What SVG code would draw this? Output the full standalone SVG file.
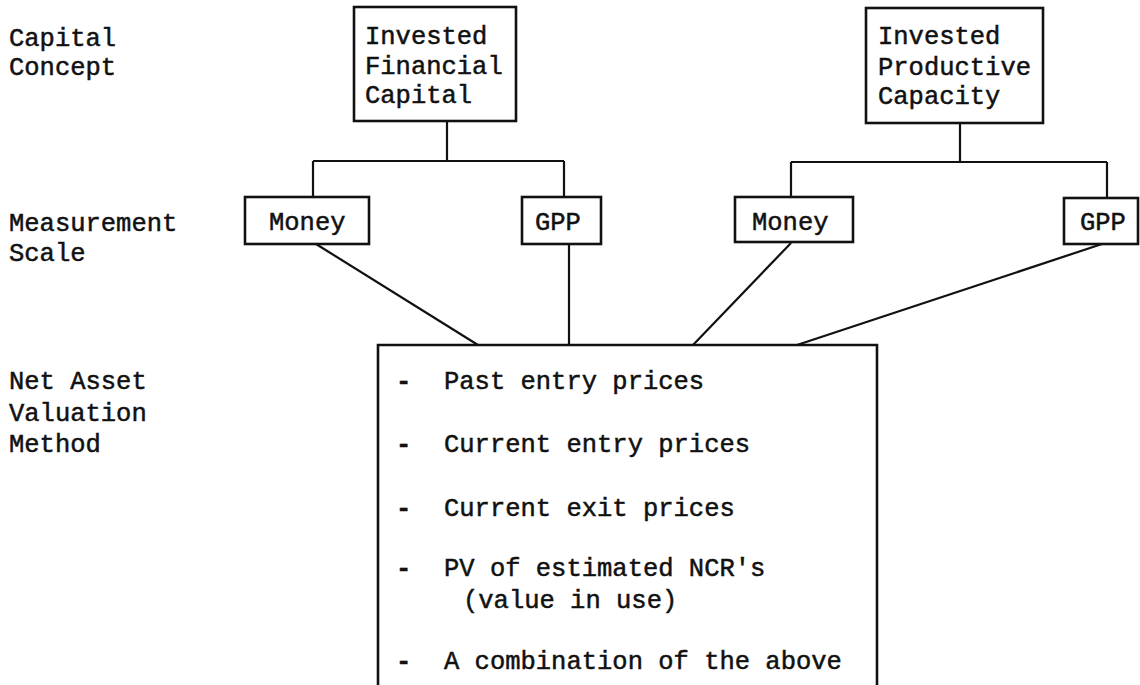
<svg xmlns="http://www.w3.org/2000/svg" width="1140" height="685" viewBox="0 0 1140 685">
<style>
text{font-family:"Liberation Mono","DejaVu Sans Mono",monospace;font-size:25.5px;fill:#111;stroke:#111;stroke-width:0.5px;}
text.dash{font-weight:bold;}
.box{fill:none;stroke:#111;stroke-width:2.6;}
.ln{fill:none;stroke:#111;stroke-width:2.2;}
</style>
<rect width="1140" height="685" fill="#fff"/>
<g id="labels">
<text x="9" y="46">Capital</text>
<text x="9" y="75">Concept</text>
<text x="9" y="231">Measurement</text>
<text x="9" y="261">Scale</text>
<text x="9" y="389">Net Asset</text>
<text x="9" y="421">Valuation</text>
<text x="9" y="452">Method</text>
</g>
<g id="connectors">
<path class="ln" d="M447,121 V161 M313,161 H564 M313,161 V197 M564,161 V197"/>
<path class="ln" d="M960,123 V162 M791,162 H1107 M791,162 V197 M1107,162 V198"/>
<path class="ln" d="M316,244 L478,345"/>
<path class="ln" d="M569,244 V345"/>
<path class="ln" d="M791,243 L693,345"/>
<path class="ln" d="M1102,244 L797,345"/>
</g>
<g id="ifc">
<rect class="box" x="354" y="7" width="162" height="114"/>
<text x="365" y="44">Invested</text>
<text x="365" y="74">Financial</text>
<text x="365" y="103">Capital</text>
</g>
<g id="ipc">
<rect class="box" x="866" y="8" width="177" height="115"/>
<text x="878" y="44">Invested</text>
<text x="878" y="75">Productive</text>
<text x="878" y="104">Capacity</text>
</g>
<g id="money1">
<rect class="box" x="245" y="197" width="124" height="47"/>
<text x="269" y="230">Money</text>
</g>
<g id="gpp1">
<rect class="box" x="522" y="197" width="79" height="47"/>
<text x="535" y="230">GPP</text>
</g>
<g id="money2">
<rect class="box" x="735" y="197" width="118" height="45"/>
<text x="752" y="230">Money</text>
</g>
<g id="gpp2">
<rect class="box" x="1064" y="198" width="74" height="46"/>
<text x="1080" y="230">GPP</text>
</g>
<g id="methods">
<path class="box" d="M378,685 V345 H877 V685"/>
<text class="dash" x="396" y="389">-</text>
<text x="444" y="389">Past entry prices</text>
<text class="dash" x="396" y="452">-</text>
<text x="444" y="452">Current entry prices</text>
<text class="dash" x="396" y="516">-</text>
<text x="444" y="516">Current exit prices</text>
<text class="dash" x="396" y="576">-</text>
<text x="444" y="576">PV of estimated NCR's</text>
<text x="463" y="608">(value in use)</text>
<text class="dash" x="396" y="669">-</text>
<text x="444" y="669">A combination of the above</text>
</g>
</svg>
